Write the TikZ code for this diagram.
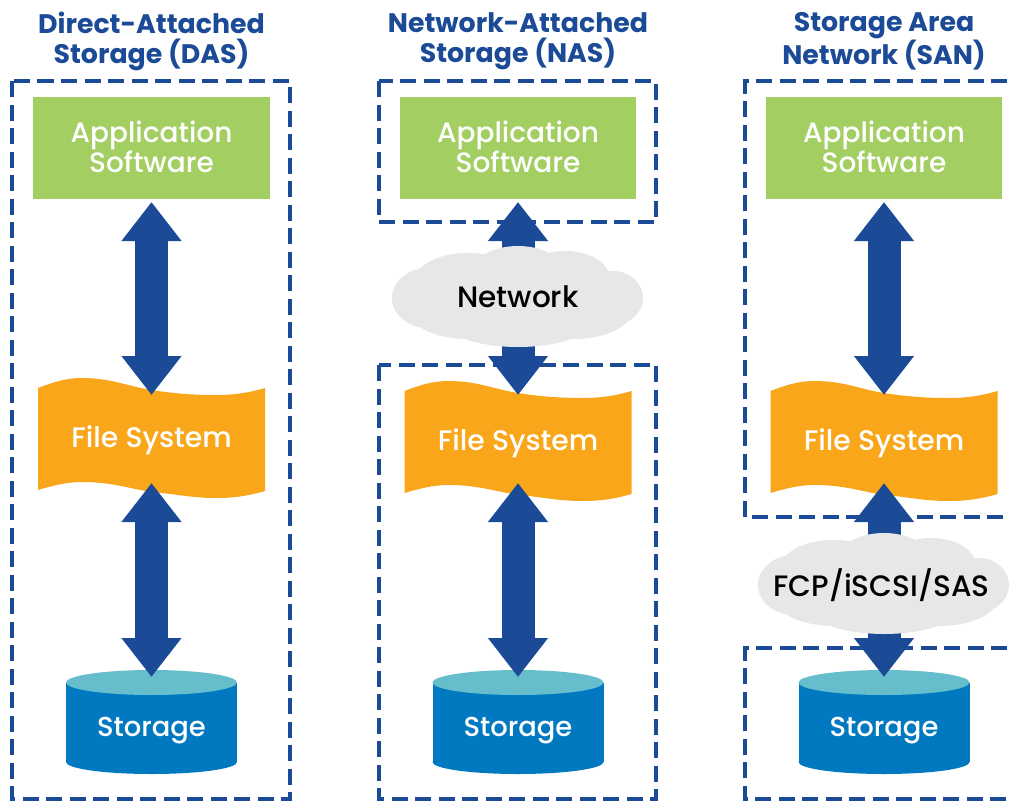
\documentclass[tikz,border=0pt]{standalone}
\usepackage{fontspec}
\setmainfont{Poppins}
\newfontfamily\medfont{Poppins Medium}
\usetikzlibrary{arrows.meta}
\definecolor{navy}{HTML}{1B4A97}
\definecolor{leaf}{HTML}{A3CF62}
\definecolor{amber}{HTML}{FAA61A}
\definecolor{disk}{HTML}{0079C1}
\definecolor{disktop}{HTML}{66BDCC}
\definecolor{fog}{HTML}{E6E7E9}
\tikzset{
  x=1pt,y=-1pt,
  frame/.style={draw=navy,line width=3.6pt,dash pattern=on 16pt off 7.5pt,line join=miter},
  titletext/.style={text=navy,align=center,font=\fontsize{26.8}{30}\selectfont\bfseries,inner sep=0pt},
  appbox/.style={fill=leaf,minimum width=236.5pt,minimum height=102pt,inner sep=0pt,outer sep=3pt},
  apptext/.style={text=white,align=center,inner sep=0pt,font=\fontsize{28}{29.5}\selectfont\medfont},
  fsbox/.style={minimum width=227pt,minimum height=88pt,inner sep=0pt,outer sep=0pt},
  whitetext/.style={text=white,inner sep=0pt,text height=20pt,text depth=0pt,font=\fontsize{28.3}{30}\selectfont\medfont},
  disktext/.style={text=white,inner sep=0pt,text height=20pt,text depth=0pt,font=\fontsize{27.4}{30}\selectfont\medfont},
  cloudtext/.style={text=black,inner sep=0pt,text height=20pt,text depth=0pt,font=\fontsize{29.5}{30}\selectfont\medfont},
  bigarrow/.style={draw=navy,line width=33pt,{Triangle[length=39pt,width=57.5pt,fill=navy]}-{Triangle[length=39pt,width=57.5pt,fill=navy]}},
}
\newcommand{\wavefill}[2]{%
  \fill[amber,shift={(#1,#2)}] (-113.5,-51) .. controls (-98,-57) and (-85,-61) .. (-70,-61)
    .. controls (-40,-61) and (-25,-53) .. (0,-49)
    .. controls (25,-45) and (45,-44) .. (65,-44)
    .. controls (85,-44) and (100,-47) .. (113.5,-51)
    -- (113.5,52) .. controls (100,56) and (85,59) .. (65,59)
    .. controls (40,59) and (25,55) .. (0,53)
    .. controls (-25,49) and (-40,43) .. (-70,43)
    .. controls (-85,43) and (-100,47) .. (-113.5,51) -- cycle;}
\newcommand{\diskfill}[1]{%
  \fill[disk,shift={(#1,0)}] (-85.5,682.5) rectangle (85.5,762);
  \fill[disk,shift={(#1,0)}] (0,762) ellipse[x radius=85.5,y radius=12];
  \fill[disktop,shift={(#1,0)}] (0,682.5) ellipse[x radius=85.5,y radius=12.5];}
\newcommand{\cloudfill}[2]{%
  \fill[fog,shift={(#1,#2)}]
    (-90,1) ellipse[x radius=36,y radius=30]
    (-50,-18) ellipse[x radius=52,y radius=26]
    (0,-22) ellipse[x radius=48,y radius=29]
    (47,-20) ellipse[x radius=44,y radius=26]
    (95,1) ellipse[x radius=30,y radius=27]
    (-50,15) ellipse[x radius=58,y radius=27]
    (55,15) ellipse[x radius=58,y radius=27]
    (0,22) ellipse[x radius=76,y radius=28]
    (0,0) ellipse[x radius=110,y radius=33];}
\begin{document}
\begin{tikzpicture}
\useasboundingbox (0,0) rectangle (1013,801);
\fill[white] (0,0) rectangle (1013,801);
% frames
\draw[frame] (12,81) rectangle (290,799);
\draw[frame] (379,81) rectangle (656,222);
\draw[frame] (379,365) rectangle (656,799);
\draw[frame] (1007,81) -- (745,81) -- (745,517) -- (1007,517);
\draw[frame] (1007,648) -- (745,648) -- (745,799) -- (1007,799);
% titles
\node[titletext] (t1) at (151.5,41) {Direct-Attached\\Storage (DAS)};
\node[titletext] (t2) at (518,41) {Network-Attached\\Storage (NAS)};
\node[titletext] (t3) at (884,41) {Storage Area\\Network (SAN)};
% application
\node[appbox] (a1) at (151.5,148) {};
\node[appbox] (a2) at (518,148) {};
\node[appbox] (a3) at (884,148) {};
\node[apptext] (at1) at (151.5,147) {Application\\Software};
\node[apptext] (at2) at (518,147) {Application\\Software};
\node[apptext] (at3) at (884,147) {Application\\Software};
% file systems
\wavefill{151.5}{439}\wavefill{518}{442}\wavefill{884}{442}
\node[fsbox] (f1) at (151.5,439) {};
\node[fsbox] (f2) at (518,439) {};
\node[fsbox] (f3) at (884,439) {};
\node[whitetext] (ft1) at (151.5,437) {File System};
\node[whitetext] (ft2) at (518,440) {File System};
\node[whitetext] (ft3) at (884,440) {File System};
% storage
\diskfill{151.5}\diskfill{518}\diskfill{884}
\node[disktext] (s1) at (151.5,726) {Storage};
\node[disktext] (s2) at (518,726) {Storage};
\node[disktext] (s3) at (884,726) {Storage};
\coordinate (d1) at (151.5,677);
\coordinate (d2) at (518,677);
\coordinate (d3) at (884,677);
% arrows
\draw[bigarrow] (a1.south) -- (f1.north);
\draw[bigarrow] (f1.south) -- (d1);
\draw[bigarrow] (a2.south) -- (f2.north);
\draw[bigarrow] (f2.south) -- (d2);
\draw[bigarrow] (a3.south) -- (f3.north);
\draw[bigarrow] (f3.south) -- (d3);
% clouds
\cloudfill{518}{297}
\node[cloudtext] (c2) at (518,297) {Network};
\cloudfill{884}{584}
\node[cloudtext] (c3) at (881.5,586) {FCP/iSCSI/SAS};
\end{tikzpicture}
\end{document}
